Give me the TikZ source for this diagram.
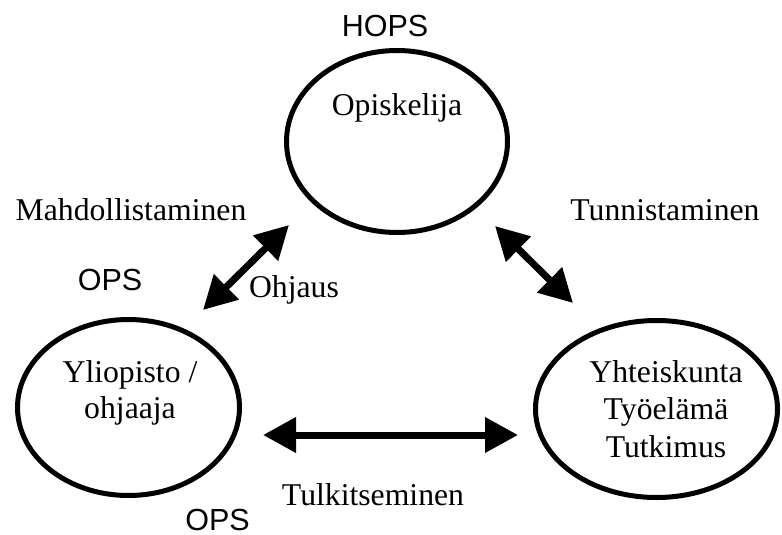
\documentclass[tikz,border=0pt]{standalone}
\usepackage{fontspec}
\setmainfont{Liberation Serif}
\setsansfont{Liberation Sans}
\usetikzlibrary{arrows.meta,shapes.geometric}
\begin{document}
\begin{tikzpicture}[x=1pt,y=-1pt,
        ring/.style={draw, ellipse, line width=5pt, inner sep=0pt},
        word/.style={anchor=base, inner sep=0pt, font=\fontsize{31.7}{37.5}\selectfont},
        tag/.style={anchor=base, inner sep=0pt, font=\sffamily\fontsize{30.5}{36}\selectfont},
        link/.style={line width=7pt, {Triangle[length=33pt,width=34pt]}-{Triangle[length=33pt,width=34pt]}}]
        \useasboundingbox (0,0) rectangle (782,535);

        \node[ring, minimum width=221pt, minimum height=182pt] (opiskelija) at (397,141.5) {};
        \node[ring, minimum width=222pt, minimum height=176pt] (yliopisto) at (128.5,407.5) {};
        \node[ring, minimum width=242pt, minimum height=177pt] (yhteiskunta) at (656.5,409) {};

        \node[word] (opiskelijatxt) at (397,115) {Opiskelija};
        \node[word, align=center, font=\fontsize{31.7}{36}\selectfont] (yliopistotxt) at (130,418) {Yliopisto /\\ohjaaja};
        \node[word, align=center] (yhteiskuntatxt) at (666,457) {Yhteiskunta\\Työelämä\\Tutkimus};

        \node[tag] (hops) at (385,37) {HOPS};
        \node[tag] (opsvasen) at (110,290) {OPS};
        \node[tag] (opsala) at (217.5,530) {OPS};

        \node[word] (mahdollistaminen) at (131,220) {Mahdollistaminen};
        \node[word] (tunnistaminen) at (665,220) {Tunnistaminen};
        \node[word] (ohjaus) at (294,297) {Ohjaus};
        \node[word] (tulkitseminen) at (373,505) {Tulkitseminen};

        \draw[link] ([xshift=74.5pt,yshift=97.5pt]yliopisto.center) -- ([xshift=-108pt,yshift=-83.5pt]opiskelija.center);
        \draw[link] ([xshift=98pt,yshift=-84.5pt]opiskelija.center) -- ([xshift=-83.5pt,yshift=106pt]yhteiskunta.center);
        \draw[link] ([xshift=134.5pt,yshift=-27.5pt]yliopisto.center) -- ([xshift=-138.5pt,yshift=-26pt]yhteiskunta.center);
    \end{tikzpicture}
\end{document}
